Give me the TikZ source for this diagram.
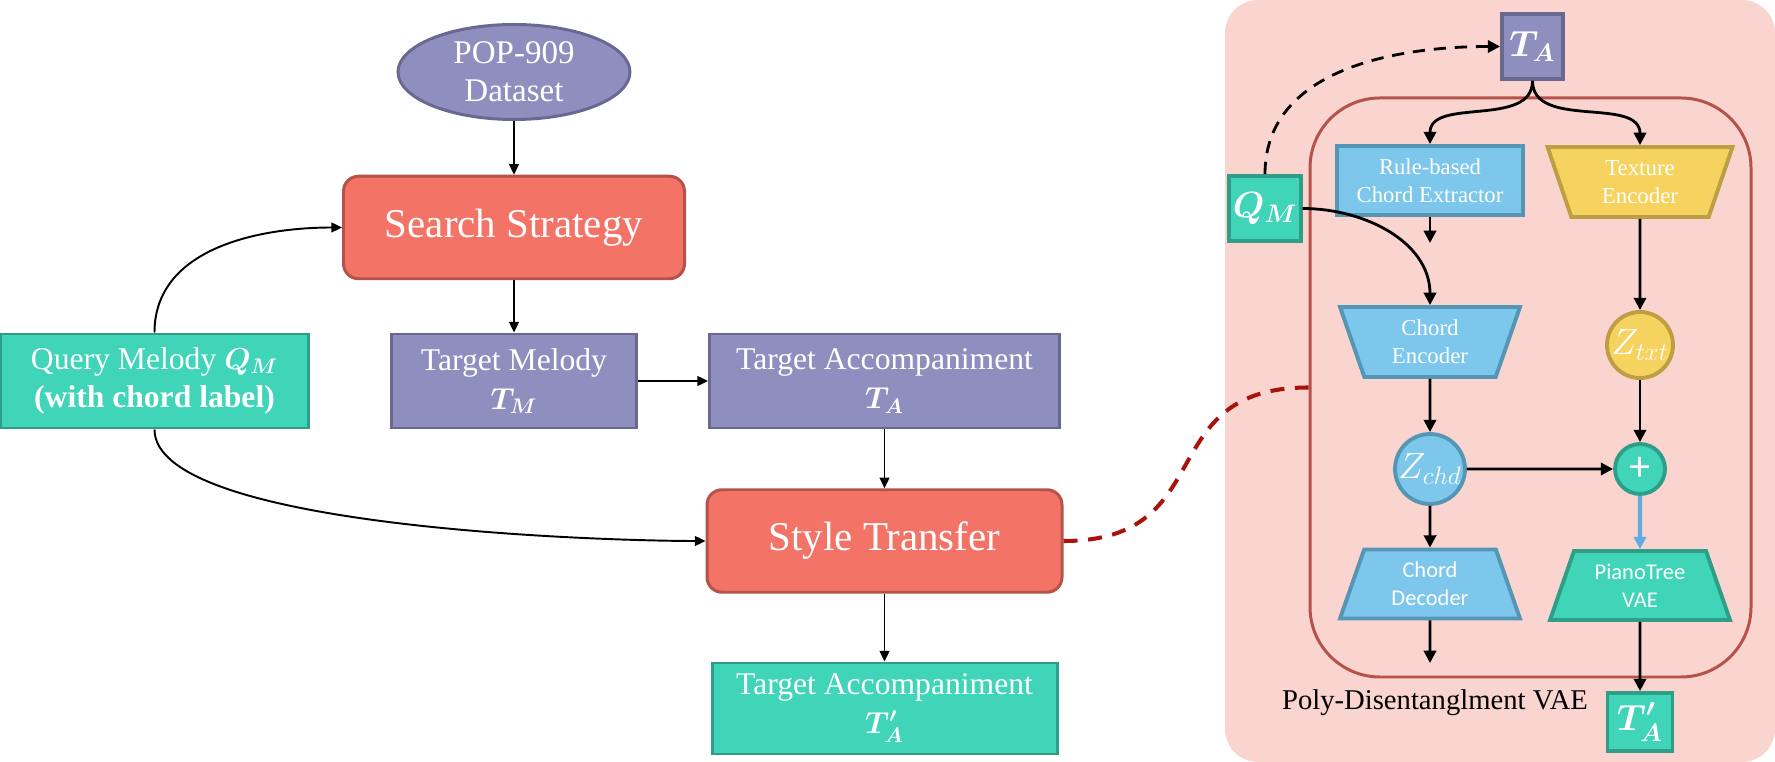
\documentclass[tikz,border=0pt]{standalone}
\usepackage{amsmath}
\usepackage{fontspec}
\setmainfont{Liberation Serif}
\newfontfamily\calibfont{Carlito}
\usepackage{tikz}
\usetikzlibrary{arrows.meta,positioning,shapes.geometric}
\definecolor{lav}{RGB}{142,143,190}
\definecolor{lavedge}{RGB}{104,104,145}
\definecolor{salmon}{RGB}{243,115,102}
\definecolor{salmonedge}{RGB}{181,82,74}
\definecolor{mint}{RGB}{64,212,185}
\definecolor{mintedge}{RGB}{46,158,136}
\definecolor{sky}{RGB}{125,198,236}
\definecolor{skyedge}{RGB}{84,150,180}
\definecolor{butter}{RGB}{246,210,94}
\definecolor{butteredge}{RGB}{189,158,66}
\definecolor{pinkbg}{RGB}{250,212,207}
\definecolor{innerred}{RGB}{181,82,74}
\definecolor{darkred}{RGB}{168,20,12}
\definecolor{flowblue}{RGB}{93,173,226}
\newcommand{\bmath}[1]{\boldsymbol{#1}}

\begin{document}
\begin{tikzpicture}[
  on grid,
  base/.style={draw,line width=1.7pt,text=white,align=center,inner sep=2pt},
  dataset/.style={base,ellipse,fill=lav,draw=lavedge,inner sep=0pt,minimum width=4.64cm,minimum height=1.9cm,font=\fontsize{18.8}{21.5}\selectfont},
  datablk/.style={base,rectangle,fill=lav,draw=lavedge,minimum height=1.88cm,font=\fontsize{18}{22}\selectfont},
  queryblk/.style={datablk,fill=mint,draw=mintedge},
  procblk/.style={base,rectangle,rounded corners=0.3cm,fill=salmon,draw=salmonedge,minimum height=2.05cm,font=\fontsize{23.3}{27}\selectfont},
  smallblk/.style={base,rectangle,line width=2.2pt,font=\fontsize{20}{22}\selectfont},
  ruleblk/.style={base,rectangle,line width=2.2pt,fill=sky,draw=skyedge,minimum width=3.72cm,minimum height=1.38cm,font=\fontsize{12.9}{16}\selectfont},
  encoder/.style={base,trapezium,trapezium left angle=117,trapezium right angle=117,trapezium stretches body=true,line width=2.2pt,inner sep=1pt,minimum height=1.4cm,font=\fontsize{13}{16}\selectfont},
  decoder/.style={base,trapezium,trapezium left angle=63,trapezium right angle=63,trapezium stretches body=true,line width=2.2pt,inner sep=1pt,minimum width=3.6cm,minimum height=1.38cm,font=\calibfont\fontsize{12.8}{16}\selectfont},
  latent/.style={base,circle,line width=2.2pt,inner sep=0pt,minimum size=1.34cm,font=\fontsize{20}{22}\selectfont},
  arrow/.style={-{Triangle[length=6pt,width=5.5pt]},line width=1.1pt},
  arrowb/.style={-{Triangle[length=7pt,width=7pt]},line width=1.6pt},
  reddash/.style={draw=darkred,line width=2.3pt,dash pattern=on 8pt off 6pt}
]
\useasboundingbox (0,0) rectangle (35.5,15.24);

\node[dataset] (pop) at (10.28,13.8) {POP-909\\Dataset};
\node[procblk,minimum width=6.82cm,below=3.11cm of pop] (search) {Search Strategy};
\node[datablk,minimum width=4.9cm,below=3.07cm of search] (tm) {Target Melody\\$\bmath{T_M}$};
\node[queryblk,minimum width=6.16cm,left=7.19cm of tm] (qm) {Query Melody $\bmath{Q_M}$\\\textbf{(with chord label)}};
\node[datablk,minimum width=7cm,right=7.41cm of tm] (ta) {Target Accompaniment\\$\bmath{T_A}$};
\node[procblk,minimum width=7.1cm,below=3.2cm of ta] (st) {Style Transfer};
\node[queryblk,minimum width=6.9cm,minimum height=1.82cm,below=3.35cm of st] (tap) {Target Accompaniment\\$\bmath{T'_A}$};

\draw[arrow] (pop) -- (search);
\draw[arrow] (search) -- (tm);
\draw[arrow] (tm) -- (ta);
\draw[arrow] (ta) -- (st);
\draw[arrow] (st) -- (tap);
\draw[arrow] (qm.north) to[out=90,in=180] (search.west);
\draw[arrow] (qm.south) to[out=-90,in=180,looseness=0.45] (st.west);

\fill[pinkbg,rounded corners=0.66cm] (24.5,0) rectangle (35.5,15.24);
\node[draw=innerred,line width=1.7pt,rounded corners=1.4cm,minimum width=8.82cm,minimum height=11.58cm] (pdvae) at (30.61,7.49) {};
\node[font=\fontsize{16.3}{18}\selectfont] (pdname) at (28.7,1.18) {Poly-Disentanglment VAE};

\node[smallblk,fill=lav,draw=lavedge,minimum width=1.22cm,minimum height=1.3cm] (tas) at (30.65,14.31) {$\bmath{T_A}$};
\node[smallblk,fill=mint,draw=mintedge,minimum width=1.36cm,minimum height=1.3cm] (qms) at (25.3,11.07) {$\bmath{Q_M}$};
\node[ruleblk] (rule) at (28.6,11.63) {Rule-based\\Chord Extractor};
\node[encoder,fill=butter,draw=butteredge,minimum width=3.7cm] (texenc) at (32.8,11.6) {Texture\\Encoder};
\node[encoder,fill=sky,draw=skyedge,minimum width=3.6cm,below=3.23cm of rule] (chdenc) {Chord\\Encoder};
\node[latent,fill=sky,draw=skyedge,below=2.54cm of chdenc] (zchd) {$Z_{chd}$};
\node[decoder,fill=sky,draw=skyedge,below=2.3cm of zchd] (chddec) {Chord\\Decoder};
\node[latent,fill=butter,draw=butteredge,minimum size=1.32cm,below=3.26cm of texenc] (ztxt) {$Z_{txt}$};
\node[latent,fill=mint,draw=mintedge,minimum size=1cm,font=\calibfont\fontsize{24}{24}\selectfont,below=2.48cm of ztxt] (mix) {+};
\node[decoder,fill=mint,draw=mintedge,below=2.33cm of mix] (ptree) {PianoTree\\VAE};
\node[smallblk,fill=mint,draw=mintedge,minimum width=1.3cm,minimum height=1.16cm,below=2.73cm of ptree] (taps) {$\bmath{T'_A}$};
\coordinate[below=1.25cm of rule] (ruleout);
\coordinate[below=1.58cm of chddec] (chdout);

\draw[reddash] (st.east) to[out=0,in=180,looseness=1.4] (pdvae.west);
\draw[arrowb,dash pattern=on 7pt off 5pt] (qms.north) to[out=90,in=180] (tas.west);
\draw[arrowb] (qms.east) to[out=0,in=90] (chdenc.north);
\draw[arrowb] (tas.south) to[out=-90,in=90] (rule.north);
\draw[arrowb] (tas.south) to[out=-90,in=90] (texenc.north);
\draw[arrowb] (rule) -- (ruleout);
\draw[arrowb] (chdenc) -- (zchd);
\draw[arrowb] (texenc) -- (ztxt);
\draw[arrowb] (ztxt) -- (mix);
\draw[arrowb] (zchd) -- (mix);
\draw[arrowb,draw=flowblue,line width=2.5pt] (mix) -- (ptree);
\draw[arrowb] (zchd) -- (chddec);
\draw[arrowb] (chddec) -- (chdout);
\draw[arrowb] (ptree) -- (taps);
\end{tikzpicture}
\end{document}
